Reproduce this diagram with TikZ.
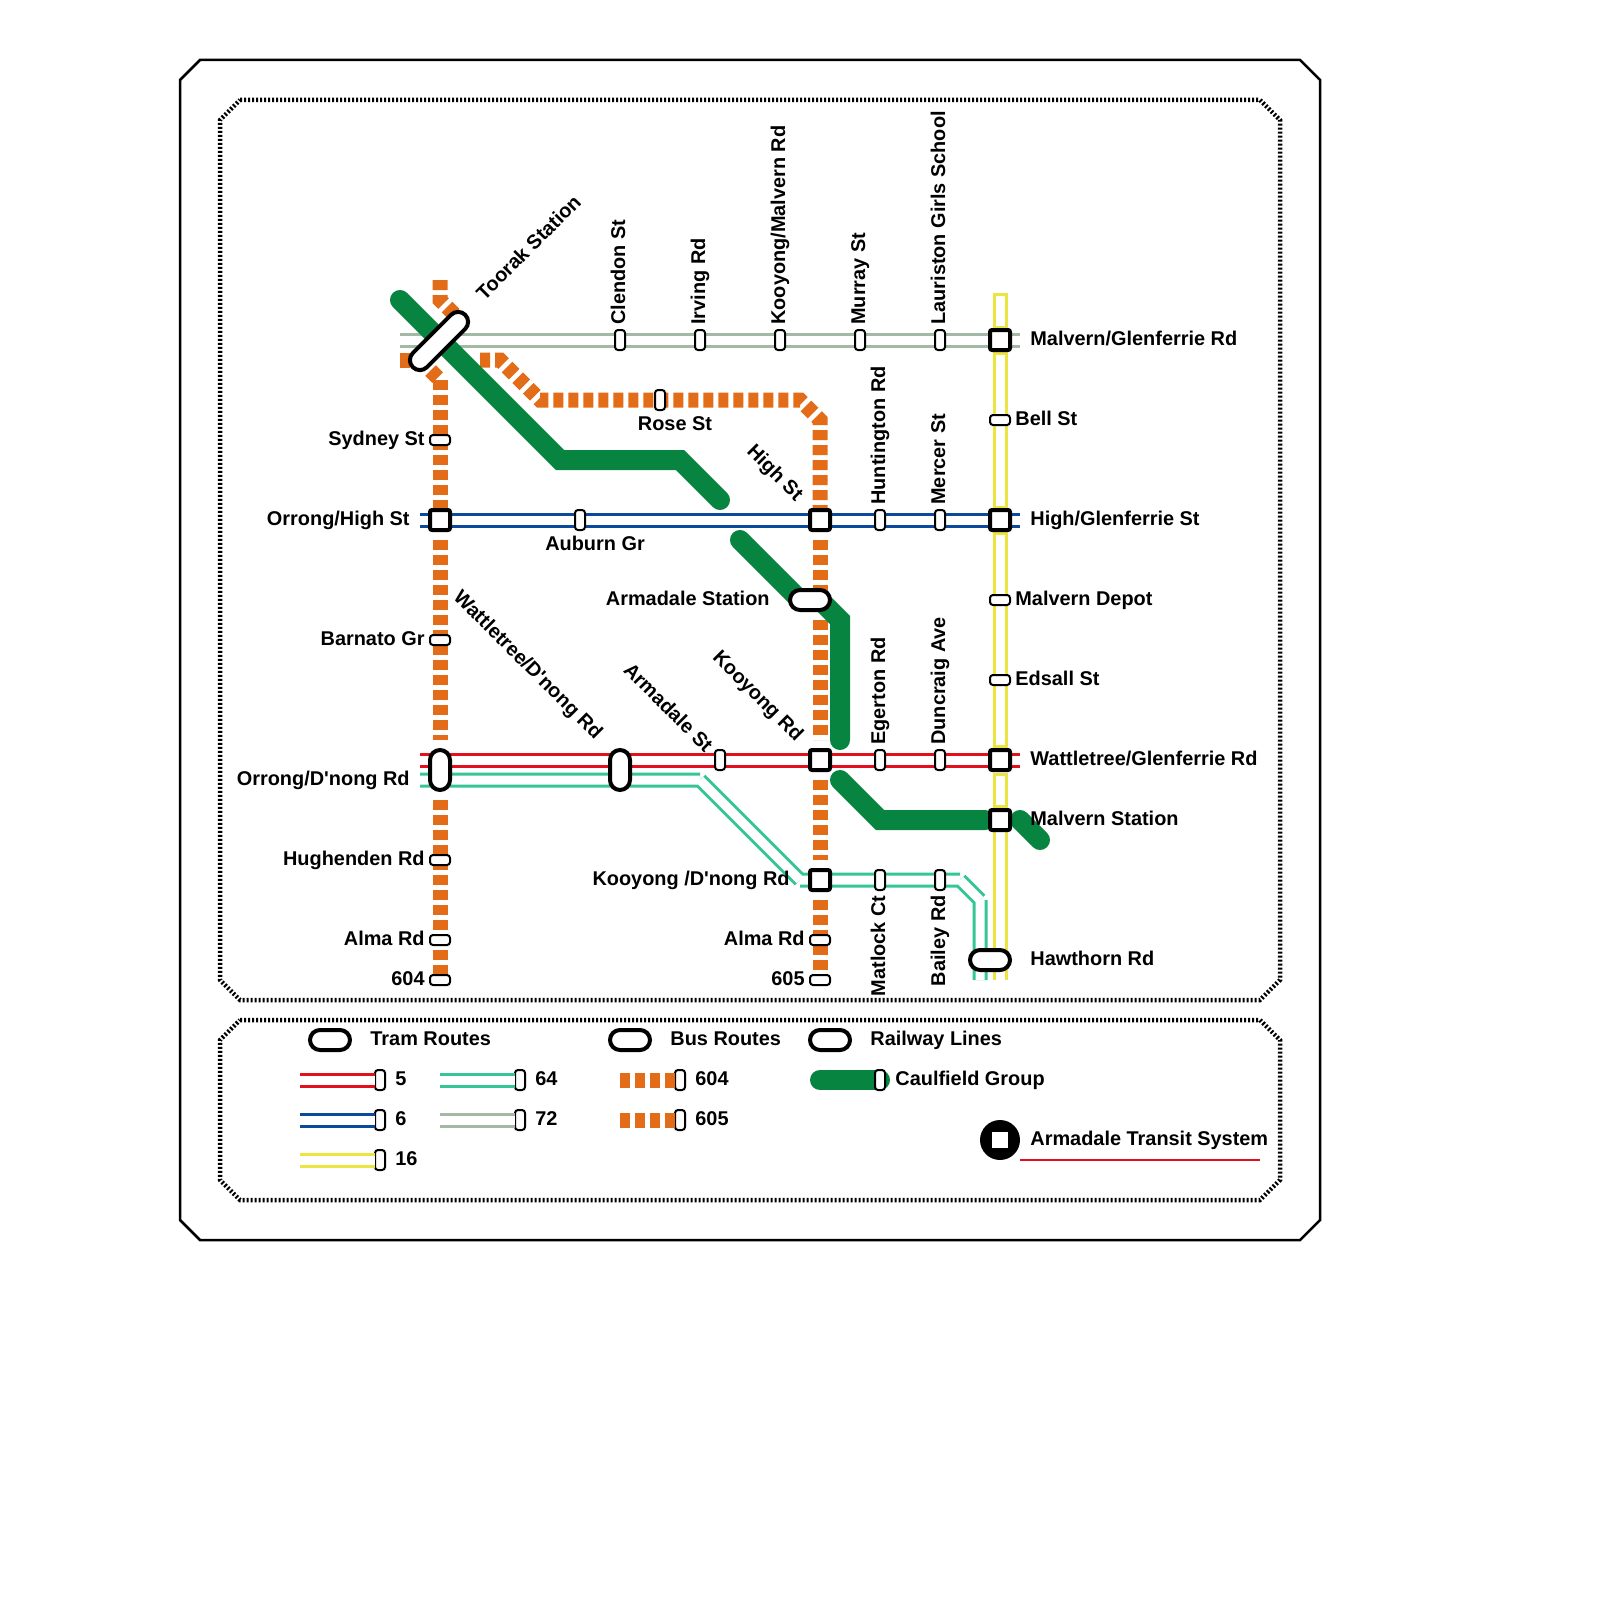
\documentclass[tikz,border=0pt]{standalone}
\usepackage{fontspec}
\newfontfamily\lblfont{Liberation Sans}
\definecolor{routered}{HTML}{E30F1B}
\definecolor{routeblue}{HTML}{0B4A9B}
\definecolor{routeyellow}{HTML}{ECE440}
\definecolor{routeteal}{HTML}{36C596}
\definecolor{routegrey}{HTML}{A3B9A6}
\definecolor{busorange}{HTML}{E36C19}
\definecolor{railgreen}{HTML}{07843F}
\tikzset{
  frameline/.style={line width=1.25pt, line join=miter},
  dotline/.style={line width=2.25pt, dash pattern=on 1pt off 1pt},
  tram/.style={#1, double=white, double distance=4.5pt, line width=1.5pt},
  tramrect/.style={routeyellow, line width=1.5pt, fill=white},
  bus/.style={busorange, line width=7.5pt, dash pattern=on 5pt off 2.5pt, line join=miter},
  rail/.style={railgreen, line width=10pt, line cap=round, line join=miter},
  bigstop/.style={draw, line width=2pt, fill=white, inner sep=0pt, outer sep=0pt, minimum width=10pt, minimum height=10pt, rounded corners=1pt},
  stopv/.style={draw, line width=1pt, fill=white, inner sep=0pt, outer sep=0pt, minimum width=5pt, minimum height=10pt, rounded corners=1.5pt},
  stoph/.style={stopv, minimum width=10pt, minimum height=5pt},
  hubh/.style={bigstop, minimum width=20pt, rounded corners=5pt},
  hubv/.style={bigstop, minimum height=20pt, rounded corners=5pt},
  lbl/.style={font=\lblfont\bfseries\fontsize{9.95}{12}\selectfont, inner sep=0pt, text height=8.2pt, text depth=2pt},
}
\begin{document}
\begin{tikzpicture}[x=0.5pt, y=-0.5pt]
    \useasboundingbox (0,0) rectangle (1600,1600);
    % Frames
    \draw[frameline] (200,60) -- (1300,60) -- (1320,80) -- (1320,1220) -- (1300,1240) -- (200,1240) -- (180,1220) -- (180,80) -- cycle;
    \draw[dotline] (240,100) -- (1260,100) -- (1280,120) -- (1280,980) -- (1260,1000) -- (240,1000) -- (220,980) -- (220,120) -- cycle;
    \draw[dotline] (240,1020) -- (1260,1020) -- (1280,1040) -- (1280,1180) -- (1260,1200) -- (240,1200) -- (220,1180) -- (220,1040) -- cycle;
    % Route points
    \coordinate (busa) at (440,280);
    \coordinate (busb) at (440,300);
    \coordinate (busc) at (460,320);
    \coordinate (busd) at (400,360);
    \coordinate (buse) at (420,360);
    \coordinate (busf) at (440,380);
    \coordinate (busg) at (440,510);
    \coordinate (bush) at (440,540);
    \coordinate (busi) at (440,740);
    \coordinate (busj) at (440,800);
    \coordinate (busk) at (440,980);
    \coordinate (busl) at (480,360);
    \coordinate (busm) at (500,360);
    \coordinate (busn) at (540,400);
    \coordinate (buso) at (800,400);
    \coordinate (busp) at (820,420);
    \coordinate (busq) at (820,510);
    \coordinate (busr) at (820,540);
    \coordinate (buss) at (820,600);
    \coordinate (bust) at (820,620);
    \coordinate (busu) at (820,740);
    \coordinate (busv) at (820,780);
    \coordinate (busw) at (820,860);
    \coordinate (busx) at (820,900);
    \coordinate (busy) at (820,980);
    \coordinate (greyw) at (400,340);
    \coordinate (greye) at (1020,340);
    \coordinate (bluew) at (420,520);
    \coordinate (bluee) at (1020,520);
    \coordinate (redw) at (420,760);
    \coordinate (rede) at (1020,760);
    \coordinate (teala) at (420,780);
    \coordinate (tealb) at (700,780);
    \coordinate (tealc) at (800,880);
    \coordinate (teald) at (960,880);
    \coordinate (teale) at (980,900);
    \coordinate (tealf) at (980,980);
    \coordinate (yellowa) at (1000,832);
    \coordinate (yellowb) at (1000,980);
    \coordinate (raila) at (400,300);
    \coordinate (railb) at (560,460);
    \coordinate (railc) at (680,460);
    \coordinate (raild) at (720,500);
    \coordinate (raile) at (740,540);
    \coordinate (railf) at (800,600);
    \coordinate (railg) at (820,600);
    \coordinate (railh) at (840,620);
    \coordinate (raili) at (840,740);
    \coordinate (railj) at (840,780);
    \coordinate (railk) at (880,820);
    \coordinate (raill) at (985,820);
    \coordinate (railm) at (1020,820);
    \coordinate (railn) at (1040,840);
    % Bus 604
    \draw[bus] (busa) -- (busb) -- (busc);
    \draw[bus] (busd) -- (buse);
    \draw[bus] (buse) -- (busf);
    \draw[bus] (busf) -- (busg);
    \draw[bus] (bush) -- (busi);
    \draw[bus] (busj) -- (busk);
    % Bus 605
    \draw[bus] (busl) -- (busm) -- (busn) -- (buso) -- (busp) -- (busq);
    \draw[bus] (busr) -- (buss);
    \draw[bus] (bust) -- (busu);
    \draw[bus] (busv) -- (busw);
    \draw[bus] (busx) -- (busy);
    % Tram routes
    \draw[tram=routegrey] (greyw) -- (greye);
    \draw[tram=routeblue] (bluew) -- (bluee);
    \draw[tram=routered] (redw) -- (rede);
    \draw[tram=routeteal] (teala) -- (tealb) (tealb) -- (tealc) (tealc) -- (teald) (teald) -- (teale) (teale) -- (tealf);
	%Route 16
    \draw[tramrect] (994,294) rectangle (1006,327);
    \draw[tramrect] (994,353) rectangle (1006,507);
    \draw[tramrect] (994,533) rectangle (1006,746);
    \draw[tramrect] (994,774) rectangle (1006,806);
    \draw[tram=routeyellow] (yellowa) -- (yellowb);
    % Railway
    \draw[rail] (raila) -- (railb) -- (railc) -- (raild);
    \draw[rail] (raile) -- (railf) -- (railg) -- (railh) -- (raili);
    \draw[rail] (railj) -- (railk) -- (raill);
    \draw[rail] (railm) -- (railn);
    % Stops on route 72
    \node[stopv] (clendon) at (620,340) {};
    \node[stopv] (irving) at (700,340) {};
    \node[stopv] (kooyongmalvern) at (780,340) {};
    \node[stopv] (murray) at (860,340) {};
    \node[stopv] (lauriston) at (940,340) {};
    \node[bigstop] (malvernglen) at (1000,340) {};
    \node[stopv] (rose) at (660,400) {};
    % Stops on route 6
    \node[bigstop] (orronghigh) at (440,520) {};
    \node[stopv] (auburn) at (580,520) {};
    \node[bigstop] (highst) at (820,520) {};
    \node[stopv] (huntington) at (880,520) {};
    \node[stopv] (mercer) at (940,520) {};
    \node[bigstop] (highglen) at (1000,520) {};
    % Stops on route 5
    \node[hubv] (orrongdnong) at (440,770) {};
    \node[hubv] (wattletreednong) at (620,770) {};
    \node[stopv] (armadalest) at (720,760) {};
    \node[bigstop] (kooyongrd) at (820,760) {};
    \node[stopv] (egerton) at (880,760) {};
    \node[stopv] (duncraig) at (940,760) {};
    \node[bigstop] (wattleglen) at (1000,760) {};
    % Stops on route 64
    \node[bigstop] (kooyongdnong) at (820,880) {};
    \node[stopv] (matlock) at (880,880) {};
    \node[stopv] (bailey) at (940,880) {};
    % Stops on the bus routes
    \node[stoph] (sydney) at (440,440) {};
    \node[stoph] (barnato) at (440,640) {};
    \node[stoph] (hughenden) at (440,860) {};
    \node[stoph] (almaa) at (440,940) {};
    \node[stoph] (endfour) at (440,980) {};
    \node[stoph] (almab) at (820,940) {};
    \node[stoph] (endfive) at (820,980) {};
    % Stops on route 16
    \node[stoph] (bell) at (1000,420) {};
    \node[stoph] (depot) at (1000,600) {};
    \node[stoph] (edsall) at (1000,680) {};
    \node[bigstop] (malvernstn) at (1000,820) {};
    % Interchanges
    \node[hubh, rotate=45, minimum width=37pt] (toorak) at (439,341) {};
    \node[hubh] (armadalestn) at (810,600) {};
    \node[hubh] (hawthorn) at (990,960) {};
    % Labels right of the stops
    \node[lbl, anchor=west] (malvernglenlbl) at (1030,339) {Malvern/Glenferrie Rd};
    \node[lbl, anchor=west] (belllbl) at (1015,419) {Bell St};
    \node[lbl, anchor=west] (highglenlbl) at (1030,519) {High/Glenferrie St};
    \node[lbl, anchor=west] (depotlbl) at (1015,599) {Malvern Depot};
    \node[lbl, anchor=west] (edsalllbl) at (1015,679) {Edsall St};
    \node[lbl, anchor=west] (wattleglenlbl) at (1030,759) {Wattletree/Glenferrie Rd};
    \node[lbl, anchor=west] (malvernstnlbl) at (1030,819) {Malvern Station};
    \node[lbl, anchor=west] (hawthornlbl) at (1030,959) {Hawthorn Rd};
    % Labels left of the stops
    \node[lbl, anchor=east] (sydneylbl) at (425,439) {Sydney St};
    \node[lbl, anchor=east] (orronghighlbl) at (410,519) {Orrong/High St};
    \node[lbl, anchor=east] (barnatolbl) at (425,639) {Barnato Gr};
    \node[lbl, anchor=east] (orrongdnonglbl) at (410,779) {Orrong/D'nong Rd};
    \node[lbl, anchor=east] (hughendenlbl) at (425,859) {Hughenden Rd};
    \node[lbl, anchor=east] (almaalbl) at (425,939) {Alma Rd};
    \node[lbl, anchor=east] (endfourlbl) at (425,979) {604};
    \node[lbl, anchor=east] (armadalestnlbl) at (770,599) {Armadale Station};
    \node[lbl, anchor=east] (kooyongdnonglbl) at (790,879) {Kooyong /D'nong Rd};
    \node[lbl, anchor=east] (almablbl) at (805,939) {Alma Rd};
    \node[lbl, anchor=east] (endfivelbl) at (805,979) {605};
    \node[lbl] (roselbl) at (675,424) {Rose St};
    \node[lbl] (auburnlbl) at (595,544) {Auburn Gr};
    % Labels standing up
    \node[lbl, rotate=90, anchor=west] (clendonlbl) at (619,325) {Clendon St};
    \node[lbl, rotate=90, anchor=west] (irvinglbl) at (699,325) {Irving Rd};
    \node[lbl, rotate=90, anchor=west] (kooyongmalvernlbl) at (779,325) {Kooyong/Malvern Rd};
    \node[lbl, rotate=90, anchor=west] (murraylbl) at (859,325) {Murray St};
    \node[lbl, rotate=90, anchor=west] (lauristonlbl) at (939,325) {Lauriston Girls School};
    \node[lbl, rotate=90, anchor=west] (huntingtonlbl) at (879,505) {Huntington Rd};
    \node[lbl, rotate=90, anchor=west] (mercerlbl) at (939,505) {Mercer St};
    \node[lbl, rotate=90, anchor=west] (egertonlbl) at (879,745) {Egerton Rd};
    \node[lbl, rotate=90, anchor=west] (duncraiglbl) at (939,745) {Duncraig Ave};
    \node[lbl, rotate=90, anchor=east] (matlocklbl) at (879,895) {Matlock Ct};
    \node[lbl, rotate=90, anchor=east] (baileylbl) at (939,895) {Bailey Rd};
    % Labels on the slant
    \node[lbl, rotate=45] (tooraklbl) at (529,248) {Toorak Station};
    \node[lbl, rotate=-45] (highstlbl) at (775,473) {High St};
    \node[lbl, rotate=-45] (wattletreednonglbl) at (528,665) {Wattletree/D'nong Rd};
    \node[lbl, rotate=-45] (armadalestlbl) at (668,708) {Armadale St};
    \node[lbl, rotate=-45] (kooyongrdlbl) at (758,696) {Kooyong Rd};
    % Legend
    \node[hubh] (keytram) at (330,1040) {};
    \node[hubh] (keybus) at (630,1040) {};
    \node[hubh] (keyrail) at (830,1040) {};
    \node[lbl, anchor=west] (keytramlbl) at (370,1039) {Tram Routes};
    \node[lbl, anchor=west] (keybuslbl) at (670,1039) {Bus Routes};
    \node[lbl, anchor=west] (keyraillbl) at (870,1039) {Railway Lines};
    \coordinate (keya) at (300,1080);
    \coordinate (keyb) at (300,1120);
    \coordinate (keyc) at (300,1160);
    \coordinate (keyd) at (440,1080);
    \coordinate (keye) at (440,1120);
    \coordinate (keyf) at (620,1080);
    \coordinate (keyg) at (620,1120);
    \coordinate (keyh) at (820,1080);
    \node[stopv] (keyfive) at (380,1080) {};
    \node[stopv] (keysix) at (380,1120) {};
    \node[stopv] (keysixteen) at (380,1160) {};
    \node[stopv] (keysixtyfour) at (520,1080) {};
    \node[stopv] (keyseventytwo) at (520,1120) {};
    \node[stopv] (keyfour) at (680,1080) {};
    \node[stopv] (keyfivebus) at (680,1120) {};
    \draw[tram=routered] (keya) -- (keyfive.west);
    \draw[tram=routeblue] (keyb) -- (keysix.west);
    \draw[tram=routeyellow] (keyc) -- (keysixteen.west);
    \draw[tram=routeteal] (keyd) -- (keysixtyfour.west);
    \draw[tram=routegrey] (keye) -- (keyseventytwo.west);
    \draw[bus] (keyf) -- (keyfour.west);
    \draw[bus] (keyg) -- (keyfivebus.west);
    \coordinate (keyi) at (880,1080);
    \draw[rail] (keyh) -- (keyi);
    \node[stopv] (keyrailstop) at (keyi) {};
    \node[lbl, anchor=west] (keyfivelbl) at (395,1079) {5};
    \node[lbl, anchor=west] (keysixlbl) at (395,1119) {6};
    \node[lbl, anchor=west] (keysixteenlbl) at (395,1159) {16};
    \node[lbl, anchor=west] (keysixtyfourlbl) at (535,1079) {64};
    \node[lbl, anchor=west] (keyseventytwolbl) at (535,1119) {72};
    \node[lbl, anchor=west] (keyfourlbl) at (695,1079) {604};
    \node[lbl, anchor=west] (keyfivebuslbl) at (695,1119) {605};
    \node[lbl, anchor=west] (keyraillinelbl) at (895,1079) {Caulfield Group};
    % Title
    \node[circle, fill=black, minimum size=20pt, inner sep=0pt] (logo) at (1000,1140) {};
    \node[fill=white, minimum size=8pt, inner sep=0pt] (logosquare) at (1000,1140) {};
    \node[lbl, anchor=west] (titlelbl) at (1030,1139) {Armadale Transit System};
    \coordinate (titlea) at (1020,1160);
    \coordinate (titleb) at (1260,1160);
    \draw[routered, line width=1.25pt] (titlea) -- (titleb);
\end{tikzpicture}
\end{document}
